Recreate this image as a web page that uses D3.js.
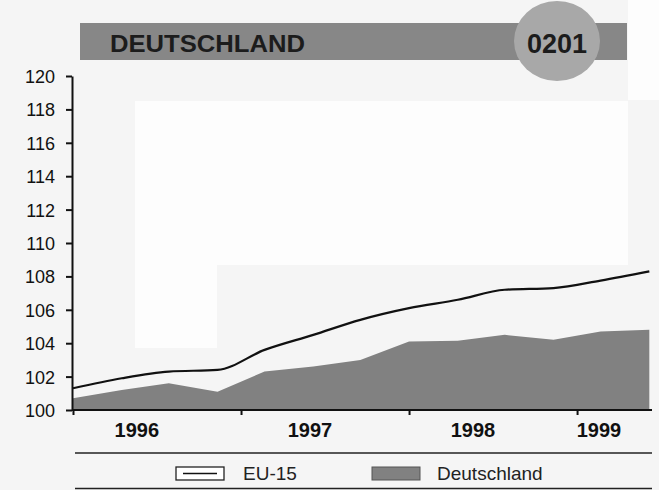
<!DOCTYPE html>
<html lang="de">
<head>
  <meta charset="utf-8">
  <script src="https://d3js.org/d3.v7.min.js"></script>
  <style>
    body, html {
      margin: 0;
      padding: 0;
      background: #f5f5f5;
    }
    svg {
      display: block;
      font-family: "Liberation Sans", Arial, Helvetica, sans-serif;
    }
    .axis path, .axis line {
      stroke: #111;
      stroke-width: 2px;
    }
    .axis text {
      fill: #111;
    }
  </style>
</head>
<body>
<svg id="chart" width="659" height="490"></svg>

<script>
  // data (index values)
  var periods = [1996.00, 1996.29, 1996.57, 1996.86, 1997.14, 1997.43, 1997.71,
                 1998.00, 1998.29, 1998.57, 1998.86, 1999.14, 1999.43];
  var eu15 = [101.3, 101.9, 102.3, 102.4, 103.6, 104.5, 105.4,
              106.1, 106.6, 107.2, 107.3, 107.75, 108.3];
  var deutschland = [100.7, 101.2, 101.6, 101.1, 102.3, 102.6, 103.0,
                     104.1, 104.15, 104.5, 104.2, 104.7, 104.8];
  var yearTicks = [1996, 1997, 1998, 1999];
  var yearLabels = ["1996", "1997", "1998", "1999"];
  var yearLabelAt = [1996.38, 1997.41, 1998.38, 1999.13];
  var yTicks = [100, 102, 104, 106, 108, 110, 112, 114, 116, 118, 120];
  var seriesNames = ["EU-15", "Deutschland"];

  var svg = d3.select("#chart");

  // scanned-page look: a few whiter patches
  svg.append("rect").attr("x", 628).attr("y", 0).attr("width", 31).attr("height", 100).attr("fill", "#fdfdfd");
  svg.append("rect").attr("x", 135).attr("y", 101).attr("width", 493).attr("height", 164).attr("fill", "#fdfdfd");
  svg.append("rect").attr("x", 135).attr("y", 265).attr("width", 82).attr("height", 83).attr("fill", "#fdfdfd");

  // header band
  svg.append("rect")
    .attr("x", 80).attr("y", 23)
    .attr("width", 547).attr("height", 37)
    .attr("fill", "#878787");
  svg.append("ellipse")
    .attr("cx", 557).attr("cy", 41)
    .attr("rx", 43).attr("ry", 40)
    .attr("fill", "#a8a8a8");
  svg.append("text")
    .attr("x", 110).attr("y", 52)
    .attr("textLength", 195)
    .attr("lengthAdjust", "spacingAndGlyphs")
    .style("font-size", "23px")
    .style("font-weight", "bold")
    .style("fill", "#1c1c1c")
    .text("DEUTSCHLAND");
  svg.append("text")
    .attr("x", 557).attr("y", 53)
    .attr("text-anchor", "middle")
    .style("font-size", "27px")
    .style("font-weight", "bold")
    .style("fill", "#1c1c1c")
    .text("0201");

  var x = d3.scaleLinear().domain([1996, 1999.44]).range([73, 651]);
  var y = d3.scaleLinear().domain([100, 120]).range([410, 76]);

  var rows = periods.map(function(p, i) {
    return {t: p, eu: eu15[i], de: deutschland[i]};
  });

  var area = d3.area()
    .x(function(d) { return x(d.t); })
    .y0(y(100))
    .y1(function(d) { return y(d.de); });

  var line = d3.line()
    .curve(d3.curveMonotoneX)
    .x(function(d) { return x(d.t); })
    .y(function(d) { return y(d.eu); });

  svg.append("path")
    .datum(rows)
    .attr("d", area)
    .attr("fill", "#818181");

  svg.append("path")
    .datum(rows)
    .attr("d", line)
    .attr("fill", "none")
    .attr("stroke", "#111")
    .attr("stroke-width", 2.2);

  // y axis
  var yAxis = svg.append("g")
    .attr("class", "axis")
    .attr("transform", "translate(72,0)")
    .call(d3.axisLeft(y).tickValues(yTicks).tickSize(6).tickPadding(11).tickSizeOuter(0));
  yAxis.selectAll("text")
    .style("font-size", "18px")
    .attr("dy", "0.36em");

  // x axis: ticks at year boundaries, labels placed separately
  var xAxis = svg.append("g")
    .attr("class", "axis")
    .attr("transform", "translate(0,410)")
    .call(d3.axisBottom(x).tickValues(yearTicks).tickSize(5).tickFormat("").tickSizeOuter(0));
  xAxis.select(".domain").attr("d", "M72,0H652");

  svg.selectAll(".year-label")
    .data(yearLabels)
    .enter().append("text")
    .attr("class", "year-label")
    .attr("x", function(d, i) { return x(yearLabelAt[i]); })
    .attr("y", 437)
    .attr("text-anchor", "middle")
    .style("font-size", "20px")
    .style("font-weight", "bold")
    .style("fill", "#111")
    .text(function(d) { return d; });

  // legend
  svg.append("line").attr("x1", 75).attr("x2", 652).attr("y1", 453).attr("y2", 453)
    .attr("stroke", "#222").attr("stroke-width", 1.5);
  svg.append("line").attr("x1", 75).attr("x2", 652).attr("y1", 488.5).attr("y2", 488.5)
    .attr("stroke", "#222").attr("stroke-width", 1.5);

  var legendBoxX = [176, 372];
  var legendTextX = [243, 437];

  svg.append("rect")
    .attr("x", legendBoxX[0]).attr("y", 467).attr("width", 48).attr("height", 13)
    .attr("fill", "#fff").attr("stroke", "#222").attr("stroke-width", 1.3);
  svg.append("line")
    .attr("x1", legendBoxX[0] + 7).attr("x2", legendBoxX[0] + 41)
    .attr("y1", 473.5).attr("y2", 473.5)
    .attr("stroke", "#111").attr("stroke-width", 1.5);
  svg.append("rect")
    .attr("x", legendBoxX[1]).attr("y", 467).attr("width", 48).attr("height", 13)
    .attr("fill", "#818181").attr("stroke", "#555").attr("stroke-width", 1);

  svg.selectAll(".legend-label")
    .data(seriesNames)
    .enter().append("text")
    .attr("class", "legend-label")
    .attr("x", function(d, i) { return legendTextX[i]; })
    .attr("y", 480)
    .style("font-size", "19px")
    .style("fill", "#222")
    .text(function(d) { return d; });
</script>
</body>
</html>
